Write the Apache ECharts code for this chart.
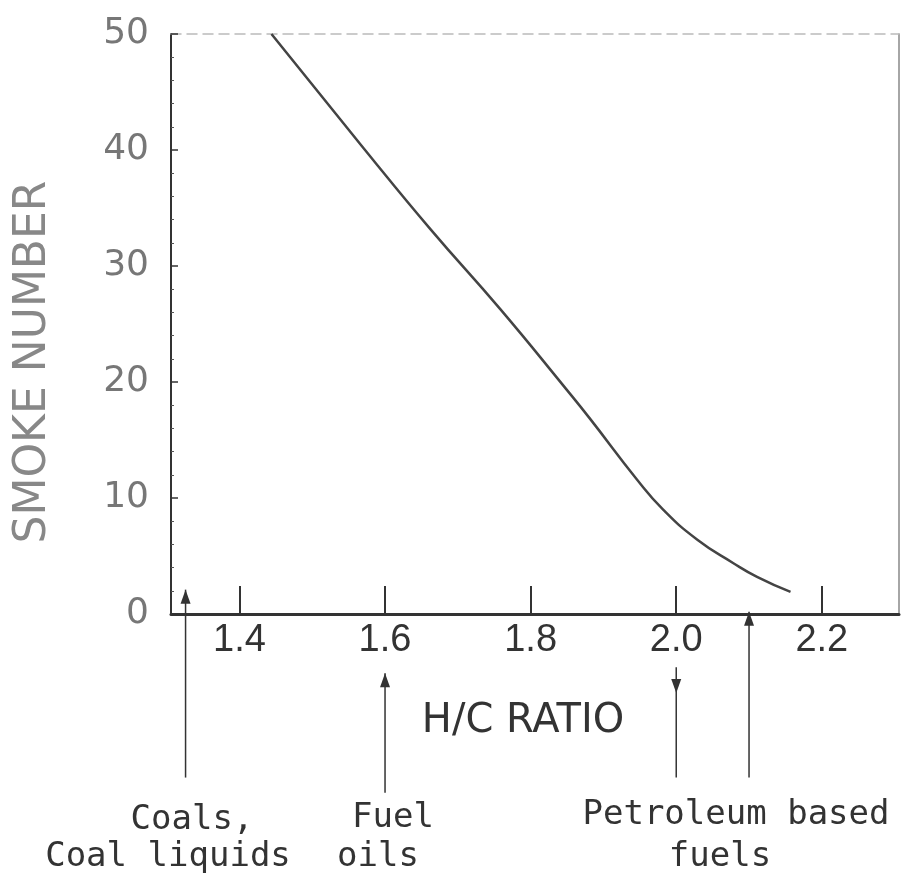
<!DOCTYPE html>
<html>
<head>
<meta charset="utf-8">
<style>
  * { margin: 0; padding: 0; }
  html, body { width: 100%; height: 100%; background: #fff; }
  #chart { width: 908px; height: 889px; }
</style>
<script src="https://cdn.jsdelivr.net/npm/echarts@6/dist/echarts.min.js"></script>
</head>
<body>
<div id="chart"></div>
<script>
// curve
var hcRatio = [1.444, 1.570, 1.662, 1.758, 1.850, 1.882, 1.946, 1.982, 2.029, 2.078, 2.111, 2.157]
var smokeNumber = [50.0, 40.2, 33.2, 26.3, 19.3, 16.8, 11.6, 9.0, 6.4, 4.4, 3.2, 1.9]
var xTicks = [1.4, 1.6, 1.8, 2.0, 2.2]

// fuel-type arrows under the axis (x, line top, line bottom, tip, direction 1 up / -1 down)
var arrowX = [1.326, 1.6, 2.0, 2.1]
var arrowTop = [2.1, -5.1, -4.6, 0.2]
var arrowBottom = [-14.1, -15.4, -14.1, -14.1]
var arrowTip = [2.1, -5.1, -6.8, 0.2]
var arrowDir = [1, 1, -1, 1]

var curveData = hcRatio.map(function(x, i) { return [x, smokeNumber[i]] })
var arrowData = arrowX.map(function(x, i) {
  return [x, arrowTop[i], arrowBottom[i], arrowTip[i], arrowDir[i]]
})

var chart = echarts.init(document.getElementById('chart'))
var ink = '#333'

var options = {
  backgroundColor: '#fff',
  animation: false,
  grid: { left: 171, right: 9, top: 34, bottom: 275 },
  xAxis: [
    {
      type: 'value',
      min: 1.306,
      max: 2.306,
      axisLine: { lineStyle: { color: ink, width: 3 } },
      axisTick: { inside: true, length: 28, customValues: xTicks, lineStyle: { color: ink, width: 2 } },
      axisLabel: {
        customValues: xTicks,
        margin: 8,
        color: ink,
        fontFamily: 'Liberation Sans',
        fontSize: 38,
        formatter: function(v) { return v.toFixed(1) }
      },
      splitLine: { show: false },
      name: 'H/C RATIO',
      nameLocation: 'middle',
      nameGap: 88,
      nameTextStyle: { color: ink, fontFamily: 'DejaVu Sans', fontSize: 40, padding: [0, 24, 0, 0] }
    },
    {
      type: 'value',
      position: 'top',
      min: 1.306,
      max: 2.306,
      axisLine: { show: true, onZero: false, lineStyle: { color: '#bbb', width: 1.5, type: [10, 6] } },
      axisTick: { show: false },
      axisLabel: { show: false },
      splitLine: { show: false }
    }
  ],
  yAxis: [
    {
      type: 'value',
      min: 0,
      max: 50,
      interval: 10,
      axisLine: { show: true, lineStyle: { color: ink, width: 2 } },
      axisTick: { show: true, inside: true, length: 7, lineStyle: { color: ink, width: 1.5 } },
      minorTick: { show: true, splitNumber: 5, length: 3, lineStyle: { color: '#555' } },
      axisLabel: {
        margin: 22,
        color: '#777',
        fontFamily: 'DejaVu Sans',
        fontSize: 36
      },
      splitLine: { show: false }
    },
    {
      type: 'value',
      position: 'right',
      min: 0,
      max: 50,
      axisLine: { show: true, onZero: false, lineStyle: { color: '#888', width: 1.5 } },
      axisTick: { show: false },
      axisLabel: { show: false },
      splitLine: { show: false }
    }
  ],
  graphic: [
    {
      type: 'text',
      x: 34,
      y: 362,
      rotation: Math.PI / 2,
      style: {
        text: 'SMOKE NUMBER',
        fill: '#888',
        font: '44px "DejaVu Sans"',
        textAlign: 'center',
        textVerticalAlign: 'middle'
      }
    },
    { type: 'text', x: 192, y: 820, style: { text: 'Coals,', fill: ink, font: '34px "DejaVu Sans Mono"', textAlign: 'center', textVerticalAlign: 'middle' } },
    { type: 'text', x: 168, y: 857, style: { text: 'Coal liquids', fill: ink, font: '34px "DejaVu Sans Mono"', textAlign: 'center', textVerticalAlign: 'middle' } },
    { type: 'text', x: 393, y: 818, style: { text: 'Fuel', fill: ink, font: '34px "DejaVu Sans Mono"', textAlign: 'center', textVerticalAlign: 'middle' } },
    { type: 'text', x: 378, y: 857, style: { text: 'oils', fill: ink, font: '34px "DejaVu Sans Mono"', textAlign: 'center', textVerticalAlign: 'middle' } },
    { type: 'text', x: 736, y: 815, style: { text: 'Petroleum based', fill: ink, font: '34px "DejaVu Sans Mono"', textAlign: 'center', textVerticalAlign: 'middle' } },
    { type: 'text', x: 720, y: 857, style: { text: 'fuels', fill: ink, font: '34px "DejaVu Sans Mono"', textAlign: 'center', textVerticalAlign: 'middle' } }
  ],
  series: [
    {
      type: 'line',
      data: curveData,
      smooth: 0.5,
      symbol: 'none',
      lineStyle: { color: '#444', width: 2.5 }
    },
    {
      type: 'custom',
      clip: false,
      data: arrowData,
      encode: { x: 0, y: 1 },
      renderItem: function(params, api) {
        var x = api.value(0)
        var top = api.coord([x, api.value(1)])
        var bot = api.coord([x, api.value(2)])
        var tip = api.coord([x, api.value(3)])
        var dir = api.value(4)
        var h = 14 * dir
        return {
          type: 'group',
          children: [
            {
              type: 'line',
              shape: { x1: top[0], y1: top[1], x2: bot[0], y2: bot[1] },
              style: { stroke: ink, lineWidth: 1.5 }
            },
            {
              type: 'polygon',
              shape: { points: [[tip[0], tip[1]], [tip[0] - 5, tip[1] + h], [tip[0] + 5, tip[1] + h]] },
              style: { fill: ink }
            }
          ]
        }
      }
    }
  ]
}

chart.setOption(options)
window.addEventListener('resize', () => {
  chart.resize()
}, false)
</script>
</body>
</html>
